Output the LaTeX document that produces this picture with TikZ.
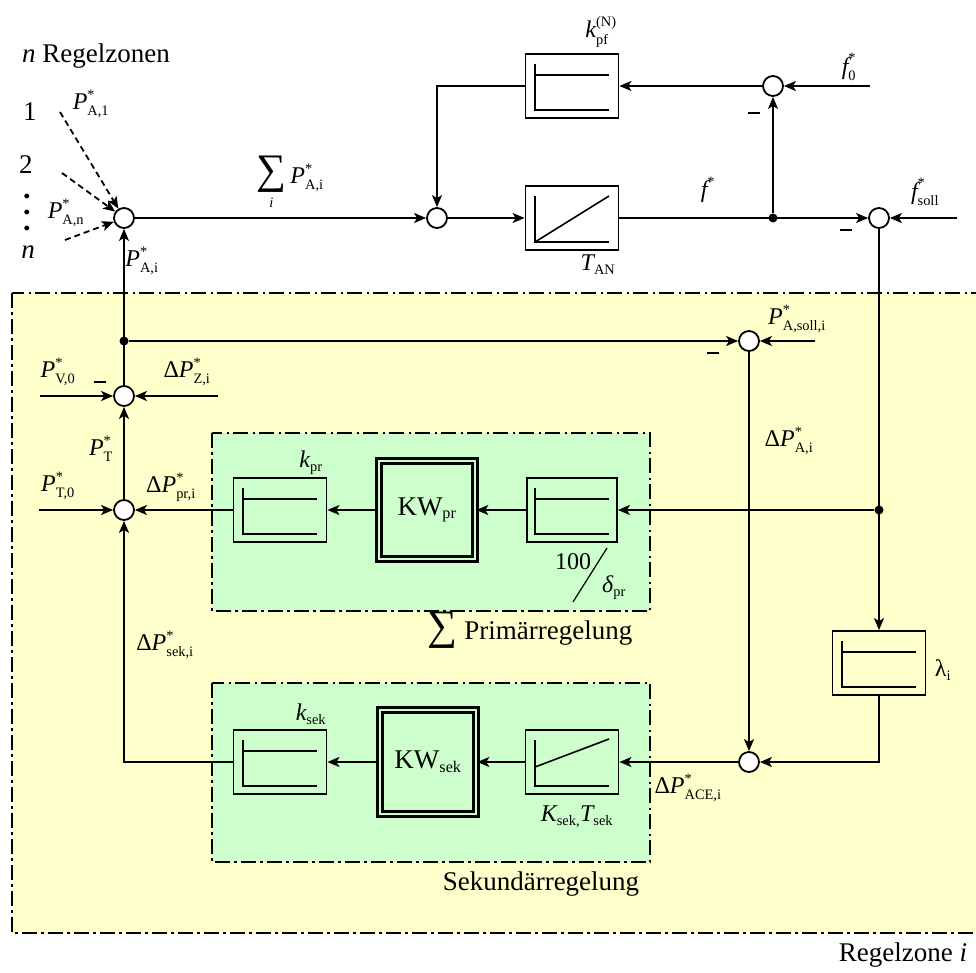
\documentclass[tikz,border=0pt]{standalone}
\usepackage{amsmath}
\usepackage{fontspec}
\setmainfont{Liberation Serif}
\usetikzlibrary{arrows.meta}
\renewcommand{\defaultscriptratio}{.6}
\definecolor{zoneyellow}{HTML}{FFFFCC}
\definecolor{zonegreen}{HTML}{CCFFCC}
\newcommand{\Ps}[2]{$\textit{#1}^{\text{*}}_{\text{#2}}$}
\newcommand{\DPs}[1]{$\text{Δ}\textit{P}^{\text{*}}_{\text{#1}}$}
\newcommand{\bigsum}{\text{\fontsize{42}{42}\selectfont ∑}}
\newcommand{\Pshape}[1]{%
  \draw[inn] ([shift={(-37,-22)}]#1.center) -- ([shift={(-37,24)}]#1.center) -- ([shift={(37,24)}]#1.center);
  \draw[inn] ([shift={(-37,-11)}]#1.center) -- ([shift={(37,-11)}]#1.center);}
\newcommand{\Ishape}[1]{%
  \draw[inn] ([shift={(-37,-22)}]#1.center) -- ([shift={(-37,24)}]#1.center) -- ([shift={(37,24)}]#1.center);
  \draw[diag] ([shift={(-37,24)}]#1.center) -- ([shift={(37,-22)}]#1.center);}
\newcommand{\PIshape}[1]{%
  \draw[inn] ([shift={(-37,-22)}]#1.center) -- ([shift={(-37,24)}]#1.center) -- ([shift={(37,24)}]#1.center);
  \draw[diag] ([shift={(-37,5)}]#1.center) -- ([shift={(37,-23)}]#1.center);}
\begin{document}
\begin{tikzpicture}[x=1pt,y=-1pt,
  >={Stealth[length=12pt,width=10pt,inset=3pt]},
  conn/.style={line width=1.8pt},
  dsh/.style={line width=1.8pt, dash pattern=on 6pt off 4pt},
  inn/.style={line width=2.6pt},
  diag/.style={line width=1.6pt},
  blk/.style={draw, line width=1.8pt, minimum width=93pt, minimum height=64pt, inner sep=0},
  kwbox/.style={draw, line width=2.6pt, double=zonegreen, double distance=2pt, minimum width=96pt, inner sep=0, font=\fontsize{27}{32}\selectfont},
  sumj/.style={circle, draw, fill=white, line width=1.8pt, minimum size=20pt, inner sep=0},
  jdot/.style={circle, fill=black, minimum size=9pt, inner sep=0},
  zone/.style={line width=1.8pt, dash pattern=on 15pt off 4pt on 2.5pt off 4.5pt},
  lab/.style={font=\fontsize{24}{28}\selectfont, inner sep=0},
  txt/.style={font=\fontsize{27}{32}\selectfont, inner sep=0},
  minus/.style={line width=2.8pt}]
\useasboundingbox (0,0) rectangle (976,972);
% zones
\draw[zone, fill=zoneyellow] (12,293) rectangle (990,933);
\draw[zone, fill=zonegreen] (212,433) rectangle (650,611);
\draw[zone, fill=zonegreen] (212,683) rectangle (650,862);
% summing junctions and dots
\node[sumj] (s1) at (124,218) {};
\node[sumj] (s2) at (437,218) {};
\node[sumj] (s3) at (773,86) {};
\node[sumj] (s4) at (879,218) {};
\node[sumj] (s5) at (124,396) {};
\node[sumj] (s6) at (124,510) {};
\node[sumj] (s7) at (749,341) {};
\node[sumj] (s8) at (749,762) {};
\node[jdot] (d1) at (773,218) {};
\node[jdot] (d2) at (124,341) {};
\node[jdot] (d3) at (879,510) {};
% blocks
\node[blk] (kpf) at (572,86) {};
\node[blk] (tan) at (572,218) {};
\node[blk] (kpr) at (280,510) {};
\node[kwbox, minimum height=98pt] (kwpr) at (427,510) {KW$_{\text{pr}}$};
\node[blk, minimum width=90pt] (dpr) at (572,510) {};
\node[blk] (ksek) at (280,762) {};
\node[kwbox, minimum height=104pt] (kwsek) at (428,762) {KW$_{\text{sek}}$};
\node[blk] (kst) at (572,762) {};
\node[blk] (lam) at (879,663) {};
\Pshape{kpf}
\Ishape{tan}
\Pshape{kpr}
\Pshape{dpr}
\Pshape{ksek}
\PIshape{kst}
\Pshape{lam}
% free ends
\coordinate (a1) at (60,112);
\coordinate (a2) at (62,173);
\coordinate (an) at (65,240);
\coordinate (f0in) at (870,86);
\coordinate (fsin) at (957,218);
\coordinate (pv0in) at (40,396);
\coordinate (pzin) at (218,396);
\coordinate (pt0in) at (39,510);
\coordinate (psin) at (815,341);
% connectors
\draw[dsh,->] (a1) -- (s1);
\draw[dsh,->] (a2) -- (s1);
\draw[dsh,->] (an) -- (s1);
\draw[conn,->] (s1) -- (s2);
\draw[conn,->] (s2) -- (tan);
\draw[conn,->] (tan) -- (s4);
\draw[conn,->] (d1) -- (s3);
\draw[conn,->] (f0in) -- (s3);
\draw[conn,->] (s3) -- (kpf);
\draw[conn,->] (kpf.west) -| (s2);
\draw[conn,->] (fsin) -- (s4);
\draw[conn,->] (s4) -- (lam);
\draw[conn,->] (d3) -- (dpr);
\draw[conn,->] (dpr) -- (kwpr);
\draw[conn,->] (kwpr) -- (kpr);
\draw[conn,->] (kpr) -- (s6);
\draw[conn,->] (lam.south) |- (s8);
\draw[conn,->] (s7) -- (s8);
\draw[conn,->] (s8) -- (kst);
\draw[conn,->] (kst) -- (kwsek);
\draw[conn,->] (kwsek) -- (ksek);
\draw[conn,->] (ksek.west) -| (s6);
\draw[conn,->] (s6) -- (s5);
\draw[conn,->] (s5) -- (s1);
\draw[conn,->] (d2) -- (s7);
\draw[conn,->] (pv0in) -- (s5);
\draw[conn,->] (pzin) -- (s5);
\draw[conn,->] (pt0in) -- (s6);
\draw[conn,->] (psin) -- (s7);
% minus signs
\draw[minus] (748,113) -- (760,113);
\draw[minus] (840,230) -- (852,230);
\draw[minus] (94,382) -- (106,382);
\draw[minus] (707,353) -- (719,353);
% texts
\node[txt] (tzones) at (96,56) {\textit{n} Regelzonen};
\node[txt] (t1) at (30,112) {1};
\node[txt] (t2) at (26,165) {2};
\node[txt, font=\fontsize{30}{30}\selectfont\bfseries] (tdots) at (27,212) {\vbox{\baselineskip=16pt\hbox{.}\hbox{.}\hbox{.}}};
\node[txt] (tn) at (28,252) {\textit{n}};
\node[lab] (lpa1) at (91,104) {\Ps{P}{A,1}};
\node[lab] (lpan) at (66,213) {\Ps{P}{A,n}};
\node[lab] (lpai) at (142,261) {\Ps{P}{A,i}};
\node[lab] (lsum) at (290,183) {$\underset{\textit{i}}{\bigsum}\,\textit{P}^{\text{*}}_{\text{A,i}}$};
\node[lab] (lkpf) at (601,32) {$\textit{k}^{\text{(N)}}_{\text{pf}}$};
\node[lab] (ltan) at (598,265) {$\textit{T}_{\text{AN}}$};
\node[lab] (lf) at (708,190) {$\textit{f}^{\text{*}}$};
\node[lab] (lf0) at (849,67) {$\textit{f}^{\text{*}}_{\text{0}}$};
\node[lab] (lfs) at (925,192) {$\textit{f}^{\text{*}}_{\text{soll}}$};
\node[lab] (lpv0) at (58,372) {\Ps{P}{V,0}};
\node[lab] (lpz) at (187,372) {\DPs{Z,i}};
\node[lab] (lpt) at (101,449) {\Ps{P}{T}};
\node[lab] (lpt0) at (58,486) {\Ps{P}{T,0}};
\node[lab] (lppr) at (171,487) {\DPs{pr,i}};
\node[lab] (lpas) at (797,319) {\Ps{P}{A,soll,i}};
\node[lab] (ldpa) at (789,441) {\DPs{A,i}};
\node[lab] (lkpr) at (311,463) {$\textit{k}_{\text{pr}}$};
\node[lab] (l100) at (573,562) {100};
\draw[line width=1.2pt] (573,602) -- (607,548);
\node[lab] (ldel) at (614,588) {$\textit{δ}_{\text{pr}}$};
\node[txt] (lprim) at (530,630) {$\bigsum$ Primärregelung};
\node[lab] (llam) at (943,670) {λ$_{\text{i}}$};
\node[lab] (lsek) at (165,645) {\DPs{sek,i}};
\node[lab] (lksek) at (311,714) {$\textit{k}_{\text{sek}}$};
\node[lab] (lkt) at (577,817) {$\textit{K}_{\text{sek,}}\textit{T}_{\text{sek}}$};
\node[lab] (lace) at (688,788) {\DPs{ACE,i}};
\node[txt] (lsekr) at (541,884) {Sekundärregelung};
\node[txt] (lzone) at (903,955) {Regelzone \textit{i}};
\end{tikzpicture}
\end{document}
